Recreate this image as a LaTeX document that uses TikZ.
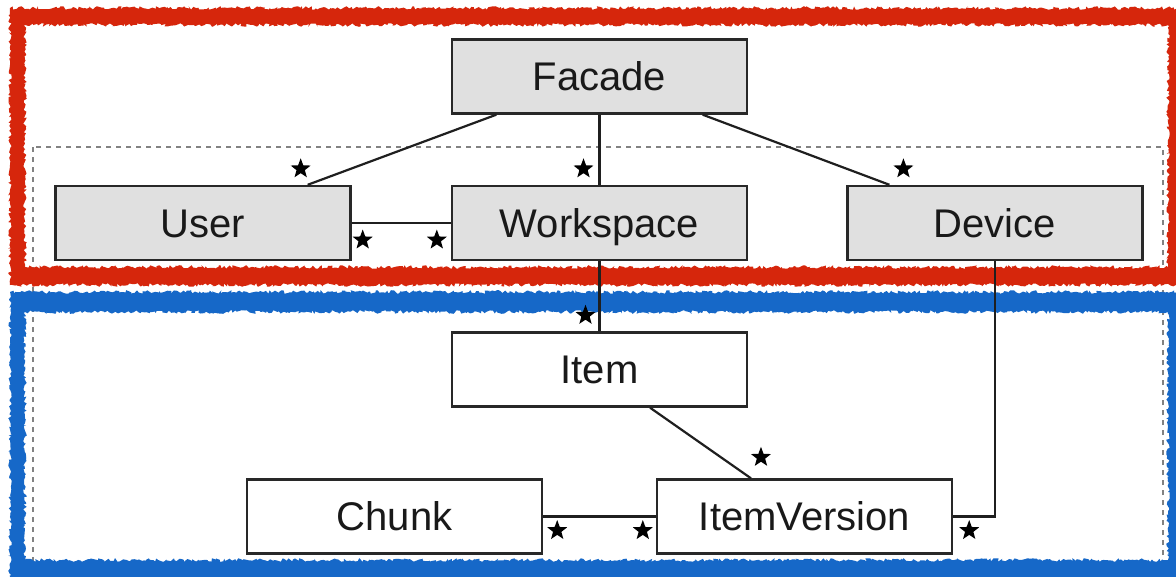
\documentclass[tikz,border=0pt]{standalone}
\usepackage{fontspec}
\setmainfont{Liberation Sans}
\usetikzlibrary{shapes.geometric,decorations.pathmorphing,calc}
\definecolor{boxgray}{RGB}{224,224,224}
\definecolor{edgegray}{RGB}{40,40,40}
\definecolor{inkred}{RGB}{214,38,12}
\definecolor{inkblue}{RGB}{22,104,200}
\definecolor{dashgray}{RGB}{130,130,130}
\tikzset{
  cls/.style={draw=edgegray, line width=2.4pt, minimum width=295pt, minimum height=74pt,
    inner sep=0pt, text height=28.6pt, text depth=0pt,
    font=\fontsize{40}{40}\selectfont, text=black!90},
  core/.style={cls, fill=boxgray},
  sub/.style={cls, fill=white},
  assoc/.style={draw=black!88, line width=2.2pt},
  mult/.style={star, star points=5, star point ratio=2.4, fill=black, draw=none,
    inner sep=0pt, minimum size=21pt},
  chalk/.style={even odd rule, decorate,
    decoration={random steps, segment length=2pt, amplitude=1.8pt}},
  group/.style={draw=dashgray, line width=1.8pt, dash pattern=on 5pt off 5pt},
}
\begin{document}
\begin{tikzpicture}[x=1pt, y=-1pt]
\useasboundingbox (0,0) rectangle (1176,576);
\clip (0,0) rectangle (1176,576);
\fill[white] (0,0) rectangle (1176,576);

% dashed package outline
\draw[group] (33,147) rectangle (1163,566);

% layer frames as rough chalk bands
\fill[chalk, inkred] (10,8) rectangle (1192,285) (25,25) rectangle (1168,267);
\fill[chalk, inkblue] (10,292) rectangle (1192,590) (25,312) rectangle (1168,560);

% classes
\node[core] (facade) at (599.5,76.5) {Facade};
\node[core] (user) at (203,223) {User};
\node[core] (work) at (599.5,223) {Workspace};
\node[core] (device) at (995,223) {Device};
\node[sub] (item) at (599.5,369.5) {Item};
\node[sub] (chunk) at (394.5,516.5) {Chunk};
\node[sub] (iver) at (804.5,516.5) {ItemVersion};

% associations
\coordinate (fU) at ($(facade.south west)!0.153!(facade.south east)$);
\coordinate (fD) at ($(facade.south west)!0.847!(facade.south east)$);
\coordinate (uT) at ($(user.north west)!0.852!(user.north east)$);
\coordinate (dT) at ($(device.north west)!0.145!(device.north east)$);
\coordinate (iB) at ($(item.south west)!0.67!(item.south east)$);
\coordinate (vT) at ($(iver.north west)!0.32!(iver.north east)$);

\draw[assoc] (fU) -- (uT);
\draw[assoc] (facade.south) -- (work.north);
\draw[assoc] (fD) -- (dT);
\draw[assoc] (user.east) -- (work.west);
\draw[assoc] (work.south) -- (item.north);
\draw[assoc] (iB) -- (vT);
\draw[assoc] (chunk.east) -- (iver.west);
\draw[assoc] (iver.east) -| (device.south);

% multiplicities
\node[mult] at ([shift={(-7,-16)}]uT) {};
\node[mult] at ([shift={(-16,-16)}]work.north) {};
\node[mult] at ([shift={(14,-16)}]dT) {};
\node[mult] at ([shift={(11,17)}]user.east) {};
\node[mult] at ([shift={(-14,17)}]work.west) {};
\node[mult] at ([shift={(-14,-16)}]item.north) {};
\node[mult] at ([shift={(10,-21)}]vT) {};
\node[mult] at ([shift={(14,14)}]chunk.east) {};
\node[mult] at ([shift={(-13,14)}]iver.west) {};
\node[mult] at ([shift={(16,14)}]iver.east) {};
\end{tikzpicture}
\end{document}
